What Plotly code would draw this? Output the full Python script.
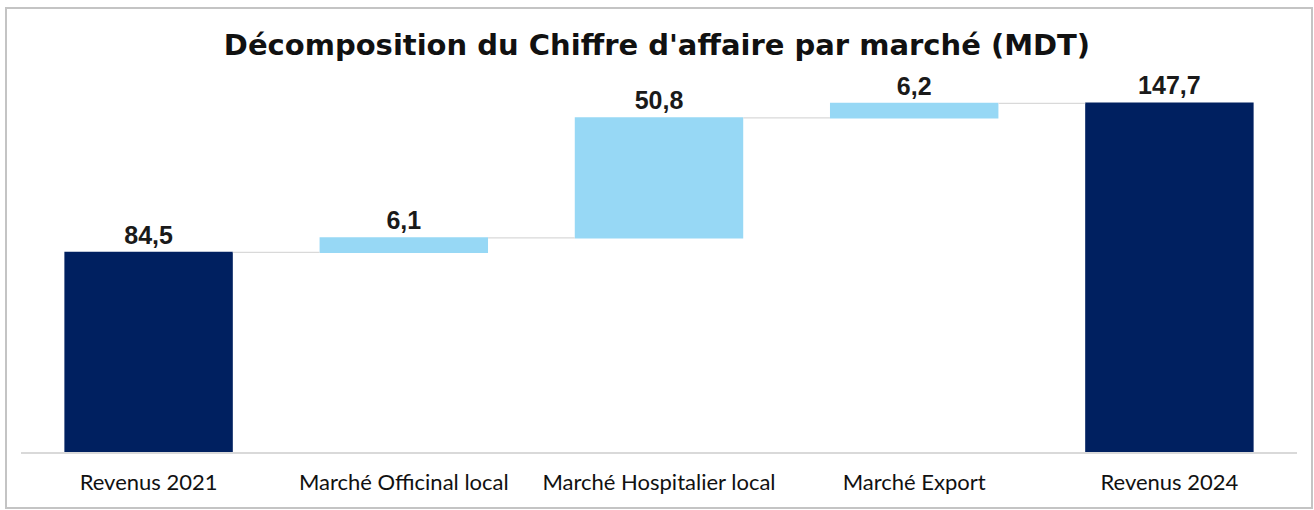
import plotly.graph_objects as go

categories = ["Revenus 2021", "Marché Officinal local", "Marché Hospitalier local", "Marché Export", "Revenus 2024"]
values = [84.5, 6.1, 50.8, 6.2, 147.7]
measures = ["absolute", "relative", "relative", "relative", "absolute"]
labels = [f"{v:.1f}".replace(".", ",") for v in values]

W, H = 1314, 510
L, R, T, B = 21, 17, 74, 58
pw, ph = W - L - R, H - T - B

def px_x(p):
    return (p - L) / pw

def px_y(p):
    return (H - B - p) / ph

fig = go.Figure(go.Waterfall(
    x=categories,
    y=values,
    measure=measures,
    text=labels,
    textposition="outside",
    textfont=dict(family="Liberation Sans", size=25, color="#1a1a1a", weight="bold"),
    totals=dict(marker=dict(color="#002060")),
    increasing=dict(marker=dict(color="#97D8F5")),
    decreasing=dict(marker=dict(color="#97D8F5")),
    connector=dict(line=dict(color="#D9D9D9", width=1.2)),
    width=0.66,
    cliponaxis=False,
    hoverinfo="skip",
))

fig.update_layout(
    width=W, height=H,
    margin=dict(l=L, r=R, t=T, b=B),
    paper_bgcolor="white",
    plot_bgcolor="white",
    showlegend=False,
    title=dict(
        text="<b>Décomposition du Chiffre d'affaire par marché (MDT)</b>",
        x=0.5, xanchor="center", y=1 - 45 / H, yanchor="middle",
        font=dict(family="DejaVu Sans", size=29, color="#111111"),
    ),
    xaxis=dict(
        showgrid=False, zeroline=False,
        showline=True, linecolor="#D9D9D9", linewidth=1.5,
        ticks="outside", ticklen=10, tickcolor="rgba(0,0,0,0)",
        tickfont=dict(family="Lato", size=22, color="#111111"),
    ),
    yaxis=dict(
        range=[0, 160], visible=False, showgrid=False, zeroline=False,
    ),
    shapes=[dict(
        type="rect", xref="paper", yref="paper",
        x0=px_x(6), x1=px_x(1312), y0=px_y(508), y1=px_y(8),
        line=dict(color="#C4C4C4", width=2), fillcolor="rgba(0,0,0,0)",
        layer="below",
    )],
)

fig.write_html(
    "out.html",
    config={"displayModeBar": False},
    post_script="document.body.style.margin='0';document.body.style.overflow='hidden';",
)
